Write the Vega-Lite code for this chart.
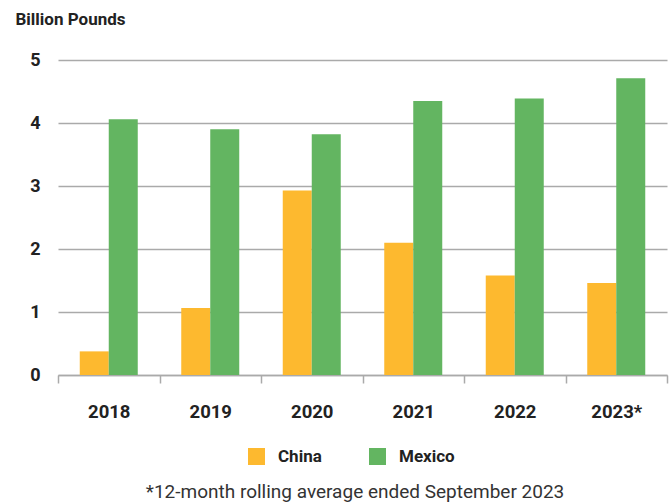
{
  "$schema": "https://vega.github.io/schema/vega-lite/v6.json",
  "width": 609,
  "height": 315,
  "autosize": "none",
  "padding": {"left": 58, "top": 60, "right": 4, "bottom": 129},
  "background": "white",
  "config": {
    "view": {"stroke": null},
    "font": "Roboto"
  },
  "data": {
    "values": [
      {"year": "2018", "country": "China", "value": 0.375},
      {"year": "2018", "country": "Mexico", "value": 4.06},
      {"year": "2019", "country": "China", "value": 1.065},
      {"year": "2019", "country": "Mexico", "value": 3.9},
      {"year": "2020", "country": "China", "value": 2.93},
      {"year": "2020", "country": "Mexico", "value": 3.82},
      {"year": "2021", "country": "China", "value": 2.1},
      {"year": "2021", "country": "Mexico", "value": 4.35},
      {"year": "2022", "country": "China", "value": 1.58},
      {"year": "2022", "country": "Mexico", "value": 4.39},
      {"year": "2023*", "country": "China", "value": 1.46},
      {"year": "2023*", "country": "Mexico", "value": 4.71}
    ]
  },
  "mark": {"type": "bar"},
  "encoding": {
    "x": {
      "field": "year",
      "type": "nominal",
      "sort": null,
      "scale": {"paddingInner": 0, "paddingOuter": 0},
      "axis": {
        "title": "*12-month rolling average ended September 2023",
        "titleFont": "Roboto",
        "titleFontSize": 19,
        "titleFontWeight": "normal",
        "titleColor": "#333333",
        "titleX": 296.5,
        "titleY": 122,
        "titleBaseline": "alphabetic",
        "labelAngle": 0,
        "labelFontSize": 18.5,
        "labelFontWeight": "bold",
        "labelColor": "#222222",
        "labelPadding": 19,
        "tickBand": "extent",
        "tickSize": 8,
        "tickColor": "#aaaaaa",
        "tickWidth": 1.5,
        "domainColor": "#aaaaaa",
        "domainWidth": 1.5,
        "grid": false
      }
    },
    "xOffset": {
      "field": "country",
      "type": "nominal",
      "scale": {"paddingInner": 0, "paddingOuter": 0.75}
    },
    "y": {
      "field": "value",
      "type": "quantitative",
      "scale": {"domain": [0, 5], "nice": false},
      "axis": {
        "values": [0, 1, 2, 3, 4, 5],
        "title": "Billion Pounds",
        "titleAngle": 0,
        "titleAlign": "left",
        "titleBaseline": "alphabetic",
        "titleX": -43,
        "titleY": -36,
        "titleFontSize": 17,
        "titleFontWeight": "bold",
        "titleColor": "#222222",
        "labelFontSize": 18,
        "labelFontWeight": "bold",
        "labelColor": "#222222",
        "labelPadding": 18,
        "domain": false,
        "ticks": false,
        "gridColor": "#aaaaaa",
        "gridWidth": 1.5
      }
    },
    "color": {
      "field": "country",
      "type": "nominal",
      "scale": {"domain": ["China", "Mexico"], "range": ["#FDB92F", "#63B561"]},
      "legend": {
        "title": null,
        "orient": "none",
        "direction": "horizontal",
        "legendX": 190,
        "legendY": 388,
        "symbolType": "square",
        "symbolSize": 289,
        "symbolStrokeWidth": 0,
        "symbolOpacity": 1,
        "labelFontSize": 17,
        "labelFontWeight": "bold",
        "labelColor": "#222222",
        "labelOffset": 13,
        "columnPadding": 47
      }
    }
  }
}
